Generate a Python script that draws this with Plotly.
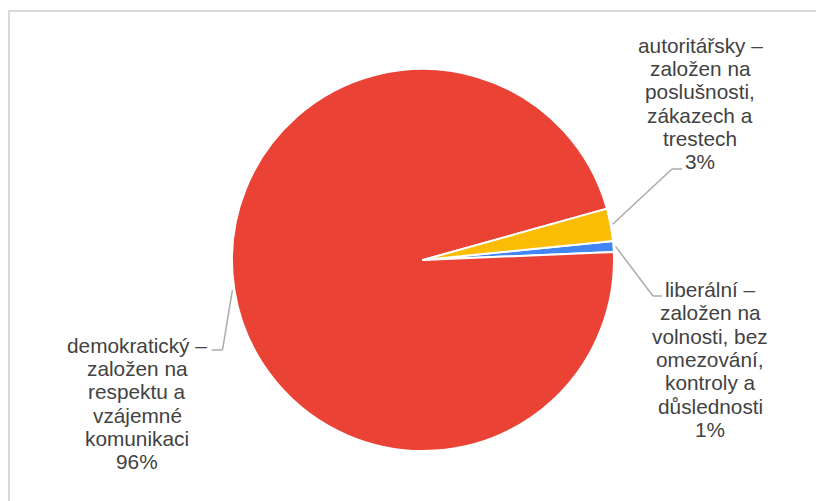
import math
import plotly.graph_objects as go

# ---- data ----
categories = [
    "liberální –<br>založen na<br>volnosti, bez<br>omezování,<br>kontroly a<br>důslednosti",
    "demokratický –<br>založen na<br>respektu a<br>vzájemné<br>komunikaci",
    "autoritářsky –<br>založen na<br>poslušnosti,<br>zákazech a<br>trestech",
]
values = [1, 105, 3]
colors = ["#4285F4", "#EA4335", "#FBBC04"]

OFF = 8  # page body margin
W, H = 824 - OFF, 501 - OFF
CX, CY, R = 423, 260, 191
ROTATION = 84.3
FONT = "Liberation Sans, Arial, sans-serif"
FS = 20.8
LINE_H = 23.35
TEXT_COLOR = "#424242"
LEADER_COLOR = "#ababab"

# label layout (page px): (label center x, first baseline y, elbow x, elbow y, end x)
label_layout = [
    (710, 296, 653, 296, 662),
    (137, 351.7, 222.5, 350, 211.5),
    (700, 51.7, 672, 169, 682),
]


def px(x):
    return (x - OFF) / W


def py(y):
    return 1 - (y - OFF) / H


fig = go.Figure(
    go.Pie(
        labels=[c.split("<br>")[0] for c in categories],
        values=values,
        marker=dict(colors=colors, line=dict(color="white", width=2)),
        sort=False,
        direction="clockwise",
        rotation=ROTATION,
        textinfo="none",
        hoverinfo="label+percent",
        domain=dict(x=[px(CX - R), px(CX + R)], y=[py(CY + R), py(CY - R)]),
    )
)

total = sum(values)
start = 90 - ROTATION
cum = 0
annotations = []
shapes = []
for cat, v, lay in zip(categories, values, label_layout):
    mid = math.radians(start - 360 * (cum + v / 2) / total)
    cum += v
    lx, by, ex, ey, endx = lay
    sx = CX + (R + 2) * math.cos(mid)
    sy = CY - (R + 2) * math.sin(mid)
    shapes.append(dict(type="line", xref="paper", yref="paper",
                       x0=px(sx), y0=py(sy), x1=px(ex), y1=py(ey),
                       line=dict(color=LEADER_COLOR, width=1.5)))
    shapes.append(dict(type="line", xref="paper", yref="paper",
                       x0=px(ex), y0=py(ey), x1=px(endx), y1=py(ey),
                       line=dict(color=LEADER_COLOR, width=1.5)))
    lines = cat.split("<br>") + [f"{round(100 * v / total)}%"]
    for k, t in enumerate(lines):
        base = by + k * LINE_H
        annotations.append(dict(
            x=px(lx), y=py(base - 6.5), xref="paper", yref="paper",
            text=t, showarrow=False, xanchor="center", yanchor="middle",
            font=dict(family=FONT, size=FS, color=TEXT_COLOR),
        ))

# outer frame (top and left edges visible)
shapes.append(dict(type="line", xref="paper", yref="paper",
                   x0=px(OFF), y0=py(11), x1=1, y1=py(11),
                   line=dict(color="#d9d9d9", width=2)))
shapes.append(dict(type="line", xref="paper", yref="paper",
                   x0=px(OFF + 1), y0=py(10), x1=px(OFF + 1), y1=0,
                   line=dict(color="#d9d9d9", width=2)))

fig.update_layout(
    width=W, height=H,
    margin=dict(l=0, r=0, t=0, b=0),
    paper_bgcolor="white", plot_bgcolor="white",
    showlegend=False,
    annotations=annotations,
    shapes=shapes,
)

fig.write_html("out.html")
